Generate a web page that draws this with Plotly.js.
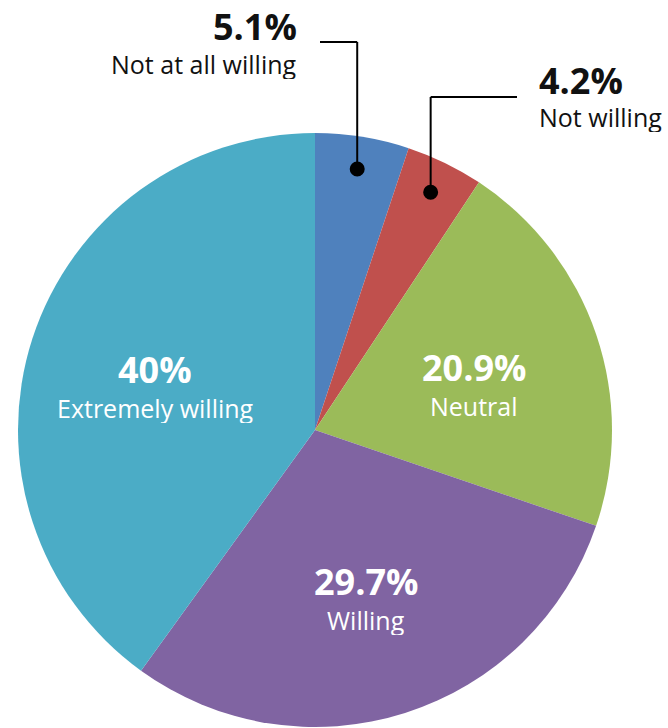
<!DOCTYPE html>
<html>
<head>
<meta charset="utf-8">
<script src="https://cdn.plot.ly/plotly-3.0.1.min.js"></script>
<style>html,body{margin:0;padding:0;background:#fff;}#chart{width:668px;height:728px;}</style>
</head>
<body>
<div id="chart"></div>
<script>
const categories = ["Not at all willing", "Not willing", "Neutral", "Willing", "Extremely willing"];
const values = [5.1, 4.2, 20.9, 29.7, 40];
const percentLabels = ["5.1%", "4.2%", "20.9%", "29.7%", "40%"];
const colors = ["#4F81BD", "#C0504D", "#9BBB59", "#8064A2", "#4BACC6"];

const W = 668, H = 728;
const CX = 315, CY = 430, R = 297;
const FONT = "'Open Sans', Lato, sans-serif";

const px = x => x / W;
const py = y => 1 - y / H;

const total = values.reduce((a, b) => a + b, 0);
const mids = [];
let cum = 0;
values.forEach(v => { mids.push((cum + v / 2) / total * 360); cum += v; });
function pt(angle, frac) {
  const a = angle * Math.PI / 180;
  return [CX + Math.sin(a) * R * frac, CY - Math.cos(a) * R * frac];
}

const trace = {
  type: "pie",
  labels: categories,
  values: values,
  sort: false,
  direction: "clockwise",
  rotation: 0,
  marker: { colors: colors, line: { width: 0 } },
  textinfo: "none",
  hoverinfo: "none",
  showlegend: false,
  domain: { x: [px(CX - R), px(CX + R)], y: [py(CY + R), py(CY - R)] }
};

const annotations = [];
const shapes = [];

// inside labels for the large slices
[2, 3, 4].forEach(i => {
  const [x, y] = pt(mids[i], 0.565);
  annotations.push({ xref: "paper", yref: "paper", x: px(x), y: py(y), xanchor: "center", yanchor: "middle",
    yshift: 9, height: 40, showarrow: false,
    text: "<b>" + percentLabels[i] + "</b>", font: { family: FONT, size: 36, color: "#ffffff" } });
  annotations.push({ xref: "paper", yref: "paper", x: px(x), y: py(y), xanchor: "center", yanchor: "middle",
    yshift: -30, height: 30, showarrow: false,
    text: categories[i], font: { family: FONT, size: 25, color: "#ffffff" } });
});

// outside labels with elbow leader lines for the small slices
const outside = [
  { i: 0, elbowY: 42, endX: 320, textX: 299, anchor: "right", pctY: 26, labY: 64 },
  { i: 1, elbowY: 97, endX: 517, textX: 537, anchor: "left", pctY: 80, labY: 117 }
];
outside.forEach(o => {
  const [dx, dy] = pt(mids[o.i], 0.89);
  shapes.push({ type: "line", xref: "paper", yref: "paper", x0: px(dx), y0: py(dy), x1: px(dx), y1: py(o.elbowY),
    line: { color: "#000", width: 2 } });
  shapes.push({ type: "line", xref: "paper", yref: "paper", x0: px(dx), y0: py(o.elbowY), x1: px(o.endX), y1: py(o.elbowY),
    line: { color: "#000", width: 2 } });
  shapes.push({ type: "circle", xref: "paper", yref: "paper", x0: px(dx - 7.5), x1: px(dx + 7.5), y0: py(dy + 7.5), y1: py(dy - 7.5),
    fillcolor: "#000", line: { width: 0 } });
  annotations.push({ xref: "paper", yref: "paper", x: px(o.textX), y: py(o.pctY), xanchor: o.anchor, yanchor: "middle",
    height: 38, showarrow: false,
    text: "<b>" + percentLabels[o.i] + "</b>", font: { family: FONT, size: 36, color: "#111" } });
  annotations.push({ xref: "paper", yref: "paper", x: px(o.textX), y: py(o.labY), xanchor: o.anchor, yanchor: "middle",
    height: 30, showarrow: false,
    text: categories[o.i], font: { family: FONT, size: 25, color: "#111" } });
});

const layout = {
  width: W, height: H,
  margin: { l: 0, r: 0, t: 0, b: 0 },
  paper_bgcolor: "#ffffff",
  plot_bgcolor: "#ffffff",
  annotations: annotations,
  shapes: shapes
};

Plotly.newPlot("chart", [trace], layout, { displayModeBar: false, staticPlot: true });
</script>
</body>
</html>
